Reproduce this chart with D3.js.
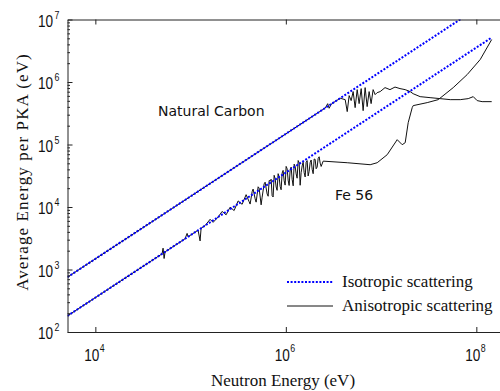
<!DOCTYPE html>
<html>
<head>
<meta charset="utf-8">
<script src="https://cdn.jsdelivr.net/npm/d3@7"></script>
<style>
  body { margin: 0; background: #fff; }
  svg { display: block; }
</style>
</head>
<body>
<div id="chart"></div>
<script>
// axis limits and ticks
const xLimits = [5.1e3, 2.0e8];
const yLimits = [1e2, 1e7];
const xTickExps = [4, 6, 8];
const yTickExps = [2, 3, 4, 5, 6, 7];

// isotropic scattering (straight lines in log-log)
const isoCarbon = [[5.1e3, 755], [1.45e8, 2.15e7]];
const isoFe = [[5.1e3, 181], [1.45e8, 5.15e6]];

// anisotropic scattering, Natural Carbon [E, avg PKA energy]
const anisoCarbon = [
  [5.1e3, 755], [1e5, 1.48e4], [1e6, 1.48e5], [2.6e6, 3.85e5], [2.75e6, 4.5e5], [2.85e6, 3.8e5],
  [3.0e6, 4.44e5], [3.3e6, 4.88e5], [3.72e6, 5.5e5], [4.2e6, 5.22e5], [4.41e6, 3.36e5], [4.62e6, 6.05e5],
  [4.85e6, 5.04e5], [5.09e6, 7.02e5], [5.34e6, 3.89e5], [5.61e6, 7.55e5], [5.88e6, 4.51e5], [6.18e6, 7.84e5],
  [6.48e6, 3.48e5], [6.8e6, 8.13e5], [7.14e6, 4.04e5], [7.49e6, 7.02e5], [7.86e6, 4.51e5], [8.25e6, 7.55e5],
  [8.66e6, 6.28e5], [9.09e6, 6.76e5], [9.78e6, 7.02e5], [1.1e7, 8.13e5], [1.24e7, 7.55e5], [1.4e7, 8.3e5],
  [1.58e7, 7.84e5], [1.79e7, 7.55e5], [2.02e7, 7.02e5], [2.17e7, 6.5e5], [2.57e7, 5.83e5], [3.27e7, 5.62e5],
  [4.17e7, 5.42e5], [5.32e7, 5.22e5], [6.78e7, 5.22e5], [8.22e7, 5.42e5], [9.28e7, 5.83e5], [1.02e8, 5.04e5],
  [1.15e8, 4.85e5], [1.45e8, 4.85e5]
];

// anisotropic scattering, Fe 56
const anisoFe = [
  [5.1e3, 181], [1e4, 355], [3e4, 1065], [5.02e4, 1782], [5.14e4, 2194], [5.27e4, 1499], [5.4e4, 1917],
  [8.75e4, 3106], [9.19e4, 3781], [9.41e4, 3341], [1.199e5, 4256], [1.258e5, 2867], [1.289e5, 4576],
  [1.42e5, 5041], [1.602e5, 6352], [1.723e5, 5683], [1.945e5, 6905], [2.142e5, 8494], [2.36e5, 7498],
  [2.6e5, 9941], [2.864e5, 8774], [3.155e5, 12510], [3.475e5, 11041], [3.828e5, 15750], [4.117e5, 12160],
  [4.218e5, 11140], [4.426e5, 17550], [4.534e5, 19350], [4.759e5, 13532], [4.876e5, 11960], [5.117e5, 21053],
  [5.242e5, 20040], [5.502e5, 10821], [5.637e5, 14350], [5.916e5, 23459], [6.061e5, 24940], [6.363e5, 16196],
  [6.519e5, 14860], [6.679e5, 26480], [6.842e5, 26159], [7.01e5, 27790], [7.18e5, 15191], [7.356e5, 14470],
  [7.535e5, 32152], [7.72e5, 28420], [7.91e5, 20892], [8.1e5, 18470], [8.3e5, 34150], [8.5e5, 30190],
  [8.71e5, 21366], [8.92e5, 18880], [9.14e5, 34945], [9.36e5, 38530], [9.6e5, 26310], [9.83e5, 22410],
  [1.007e6, 44615], [1.032e6, 40910], [1.057e6, 26905], [1.083e6, 22100], [1.11e6, 39405], [1.137e6, 43480],
  [1.165e6, 27544], [1.194e6, 21820], [1.223e6, 48497], [1.253e6, 44480], [1.283e6, 33887], [1.314e6, 28880],
  [1.347e6, 55422], [1.38e6, 50800], [1.413e6, 22272], [1.448e6, 35510], [1.484e6, 45465], [1.52e6, 52030],
  [1.557e6, 35486], [1.595e6, 30240], [1.634e6, 51916], [1.674e6, 55210], [1.715e6, 31355], [1.757e6, 37170],
  [1.8e6, 51184], [1.844e6, 56490], [1.89e6, 39989], [1.936e6, 34090], [1.983e6, 58570], [2.032e6, 57770],
  [2.081e6, 40927], [2.132e6, 43520], [2.184e6, 59855], [2.238e6, 63620], [2.293e6, 50388], [2.349e6, 44540],
  [2.465e6, 54170], [4.41e6, 5.11e4], [7.68e6, 4.75e4], [9.1e6, 5.11e4], [1.159e7, 6.87e4], [1.476e7, 1.194e5],
  [1.666e7, 9.93e4], [1.791e7, 1.069e5], [1.926e7, 2.234e5], [2.122e7, 3.89e5], [2.174e7, 4.19e5],
  [3.05e7, 4.68e5], [3.979e7, 5.22e5], [5.72e7, 8.13e5], [8.02e7, 1.315e6], [1.099e8, 2.29e6], [1.45e8, 4.78e6]
];

const legendLabels = ["Isotropic scattering", "Anisotropic scattering"];

const W = 500, H = 391;
const plot = { left: 67.5, right: 505, top: 19.5, bottom: 332 };

const svg = d3.select("#chart").append("svg")
  .attr("width", W).attr("height", H);

const x = d3.scaleLog().domain(xLimits).range([plot.left, plot.right]);
const y = d3.scaleLog().domain(yLimits).range([plot.bottom, plot.top]);

svg.append("clipPath").attr("id", "clip")
  .append("rect")
  .attr("x", plot.left).attr("y", plot.top)
  .attr("width", plot.right - plot.left).attr("height", plot.bottom - plot.top);

const line = d3.line().x(d => x(d[0])).y(d => y(d[1]));
const lines = svg.append("g").attr("clip-path", "url(#clip)");

[anisoCarbon, anisoFe].forEach(s => {
  lines.append("path").datum(s)
    .attr("d", line)
    .attr("fill", "none")
    .attr("stroke", "#111")
    .attr("stroke-width", 1);
});
[isoCarbon, isoFe].forEach(s => {
  lines.append("path").datum(s)
    .attr("d", line)
    .attr("fill", "none")
    .attr("stroke", "#0000ff")
    .attr("stroke-width", 2)
    .attr("stroke-dasharray", "2 1.6");
});

// axes (MATLAB style, ticks inward)
const axisColor = "#222";
const xTicks = xTickExps.map(e => Math.pow(10, e));
const yTicks = yTickExps.map(e => Math.pow(10, e));
const yMinor = [];
yTickExps.slice(0, -1).forEach(e => { for (let k = 2; k <= 9; k++) yMinor.push(k * Math.pow(10, e)); });

svg.append("g")
  .attr("transform", `translate(0,${plot.bottom})`)
  .call(d3.axisBottom(x).tickValues(xTicks).tickSizeInner(-5).tickSizeOuter(0).tickFormat(""))
  .call(g => g.selectAll("path,line").attr("stroke", axisColor));

svg.append("g")
  .attr("transform", `translate(0,${plot.top})`)
  .call(d3.axisTop(x).tickValues(xTicks).tickSizeInner(-5).tickSizeOuter(0).tickFormat(""))
  .call(g => g.selectAll("path,line").attr("stroke", axisColor));

svg.append("g")
  .attr("transform", `translate(${plot.left},0)`)
  .call(d3.axisLeft(y).tickValues(yTicks).tickSizeInner(-5).tickSizeOuter(0).tickFormat(""))
  .call(g => g.selectAll("path,line").attr("stroke", axisColor));

svg.append("g")
  .attr("transform", `translate(${plot.left},0)`)
  .call(d3.axisLeft(y).tickValues(yMinor).tickSizeInner(-2.5).tickSizeOuter(0).tickFormat(""))
  .call(g => g.select(".domain").remove())
  .call(g => g.selectAll("line").attr("stroke", axisColor));

// tick labels as 10 with superscript
const tickFont = "'Liberation Sans', Arial, sans-serif";
function powerLabel(gx, bx, by, ex, ey, e, anchor) {
  gx.append("text")
    .attr("transform", `translate(${bx},${by}) scale(0.8,1)`)
    .attr("text-anchor", anchor)
    .attr("font-family", tickFont).attr("font-size", 17)
    .attr("fill", "#111")
    .text("10");
  gx.append("text")
    .attr("transform", `translate(${ex},${ey}) scale(0.8,1)`)
    .attr("font-family", tickFont).attr("font-size", 11)
    .attr("fill", "#111")
    .text(e);
}
const labels = svg.append("g");
yTickExps.forEach(e => {
  const ty = y(Math.pow(10, e));
  powerLabel(labels, 53, ty + 7, 54.5, ty - 1, e, "end");
});
xTickExps.forEach(e => {
  const tx = x(Math.pow(10, e));
  powerLabel(labels, tx + 4, 361, tx + 4.5, 352, e, "end");
});

// axis titles
const serif = "'Liberation Serif', 'Times New Roman', serif";
svg.append("text")
  .attr("x", 283).attr("y", 386)
  .attr("text-anchor", "middle")
  .attr("font-family", serif).attr("font-size", 17).attr("fill", "#111")
  .text("Neutron Energy (eV)");
svg.append("text")
  .attr("transform", `translate(28,172) rotate(-90)`)
  .attr("text-anchor", "middle")
  .attr("font-family", serif).attr("font-size", 17).attr("letter-spacing", 1.1).attr("fill", "#111")
  .text("Average Energy per PKA (eV)");

// annotations
const annFont = "'DejaVu Sans', sans-serif";
svg.append("text")
  .attr("x", 158).attr("y", 116)
  .attr("font-family", annFont).attr("font-size", 14).attr("fill", "#111")
  .text("Natural Carbon");
svg.append("text")
  .attr("x", 335).attr("y", 200)
  .attr("font-family", annFont).attr("font-size", 14).attr("fill", "#111")
  .text("Fe 56");

// legend
const legend = svg.append("g");
const legendY = [282, 306];
legend.append("line")
  .attr("x1", 287).attr("x2", 333).attr("y1", legendY[0]).attr("y2", legendY[0])
  .attr("stroke", "#0000ff").attr("stroke-width", 2).attr("stroke-dasharray", "2 1.6");
legend.append("line")
  .attr("x1", 287).attr("x2", 333).attr("y1", legendY[1]).attr("y2", legendY[1])
  .attr("stroke", "#111").attr("stroke-width", 1);
legendLabels.forEach((t, i) => {
  legend.append("text")
    .attr("x", 342).attr("y", legendY[i] + 5)
    .attr("font-family", serif).attr("font-size", 17).attr("fill", "#111")
    .text(t);
});
</script>
</body>
</html>
